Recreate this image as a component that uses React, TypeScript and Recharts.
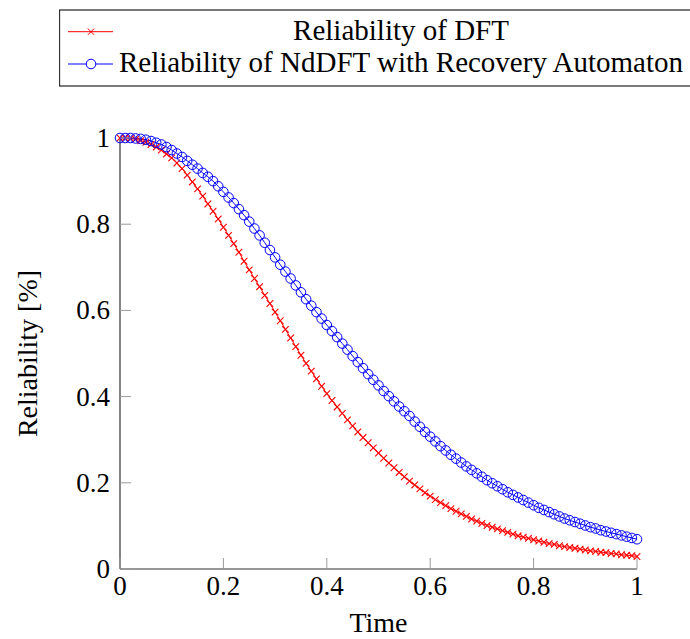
import { LineChart, Line, XAxis, YAxis, Label } from "recharts";

// time grid (x values of the plotted samples)
const timeSteps = [
  0, 0.01, 0.02, 0.03, 0.04, 0.05, 0.06, 0.07, 0.08, 0.09,
  0.1, 0.11, 0.12, 0.13, 0.14, 0.15, 0.16, 0.17, 0.18, 0.19,
  0.2, 0.21, 0.22, 0.23, 0.24, 0.25, 0.26, 0.27, 0.28, 0.29,
  0.3, 0.31, 0.32, 0.33, 0.34, 0.35, 0.36, 0.37, 0.38, 0.39,
  0.4, 0.41, 0.42, 0.43, 0.44, 0.45, 0.46, 0.47, 0.48, 0.49,
  0.5, 0.51, 0.52, 0.53, 0.54, 0.55, 0.56, 0.57, 0.58, 0.59,
  0.6, 0.61, 0.62, 0.63, 0.64, 0.65, 0.66, 0.67, 0.68, 0.69,
  0.7, 0.71, 0.72, 0.73, 0.74, 0.75, 0.76, 0.77, 0.78, 0.79,
  0.8, 0.81, 0.82, 0.83, 0.84, 0.85, 0.86, 0.87, 0.88, 0.89,
  0.9, 0.91, 0.92, 0.93, 0.94, 0.95, 0.96, 0.97, 0.98, 0.99,
  1,
];

const dftReliability = [
  1.0, 1.0, 0.999, 0.997, 0.994, 0.99, 0.985, 0.979, 0.972, 0.963,
  0.954, 0.942, 0.929, 0.914, 0.898, 0.882, 0.865, 0.847, 0.83, 0.812,
  0.793, 0.774, 0.755, 0.735, 0.714, 0.694, 0.674, 0.655, 0.635, 0.616,
  0.596, 0.576, 0.556, 0.536, 0.516, 0.496, 0.477, 0.459, 0.441, 0.424,
  0.407, 0.391, 0.376, 0.361, 0.346, 0.332, 0.318, 0.305, 0.293, 0.281,
  0.269, 0.257, 0.246, 0.235, 0.224, 0.214, 0.204, 0.195, 0.186, 0.177,
  0.169, 0.161, 0.154, 0.147, 0.14, 0.134, 0.128, 0.122, 0.116, 0.111,
  0.106, 0.101, 0.097, 0.093, 0.089, 0.085, 0.081, 0.077, 0.074, 0.071,
  0.068, 0.065, 0.062, 0.059, 0.057, 0.054, 0.052, 0.05, 0.048, 0.046,
  0.044, 0.042, 0.041, 0.039, 0.038, 0.036, 0.035, 0.033, 0.032, 0.031,
  0.029,
];

const ndDftReliability = [
  1.0, 1.0, 1.0, 0.999, 0.998, 0.996, 0.993, 0.989, 0.985, 0.979,
  0.972, 0.964, 0.956, 0.947, 0.938, 0.929, 0.919, 0.91, 0.9, 0.888,
  0.875, 0.862, 0.849, 0.835, 0.821, 0.806, 0.79, 0.774, 0.757, 0.74,
  0.723, 0.706, 0.69, 0.674, 0.658, 0.642, 0.626, 0.611, 0.596, 0.581,
  0.566, 0.552, 0.538, 0.523, 0.509, 0.494, 0.48, 0.466, 0.452, 0.439,
  0.426, 0.413, 0.401, 0.389, 0.377, 0.366, 0.355, 0.342, 0.33, 0.318,
  0.307, 0.296, 0.285, 0.275, 0.265, 0.256, 0.247, 0.238, 0.23, 0.222,
  0.214, 0.206, 0.199, 0.192, 0.185, 0.178, 0.172, 0.166, 0.16, 0.154,
  0.148, 0.142, 0.137, 0.132, 0.127, 0.122, 0.117, 0.113, 0.109, 0.105,
  0.101, 0.097, 0.094, 0.09, 0.087, 0.084, 0.081, 0.078, 0.075, 0.072,
  0.069,
];

const xTicks = [0, 0.2, 0.4, 0.6, 0.8, 1];
const yTicks = [0, 0.2, 0.4, 0.6, 0.8, 1];
const seriesNames = [
  "Reliability of DFT",
  "Reliability of NdDFT with Recovery Automaton",
];

const data = timeSteps.map((t, i) => ({
  t,
  dft: dftReliability[i],
  nddft: ndDftReliability[i],
}));

const FONT = '"Liberation Serif", serif';
const FRAME = "#333333";
const TICK_COLOR = "#9a9a9a";
const TICK_LEN = 11;
const RED = "#ff0000";
const BLUE = "#0000ff";

// pgfplots style ticks: drawn inwards, on every side of the box
const BottomTick = (props: any) => {
  const { x, y, payload } = props;
  return (
    <g>
      <line x1={x} y1={y} x2={x} y2={y - TICK_LEN} stroke={TICK_COLOR} />
      <text x={x} y={y + 26} textAnchor="middle" fill="#000" style={{ fontFamily: FONT, fontSize: 27 }}>
        {String(payload.value)}
      </text>
    </g>
  );
};

const TopTick = (props: any) => {
  const { x, y } = props;
  return <line x1={x} y1={y} x2={x} y2={y + TICK_LEN} stroke={TICK_COLOR} />;
};

const LeftTick = (props: any) => {
  const { x, y, payload } = props;
  return (
    <g>
      <line x1={x} y1={y} x2={x + TICK_LEN} y2={y} stroke={TICK_COLOR} />
      <text x={x - 10} y={y + 9} textAnchor="end" fill="#000" style={{ fontFamily: FONT, fontSize: 27 }}>
        {String(payload.value)}
      </text>
    </g>
  );
};

const RightTick = (props: any) => {
  const { x, y } = props;
  return <line x1={x} y1={y} x2={x - TICK_LEN} y2={y} stroke={TICK_COLOR} />;
};

const crossMark = (props: any) => {
  const { cx, cy, key } = props;
  const s = 3.3;
  return (
    <g key={key}>
      <line x1={cx - s} y1={cy - s} x2={cx + s} y2={cy + s} stroke={RED} strokeWidth={1.1} />
      <line x1={cx - s} y1={cy + s} x2={cx + s} y2={cy - s} stroke={RED} strokeWidth={1.1} />
    </g>
  );
};

const circleMark = (props: any) => {
  const { cx, cy, key } = props;
  return <circle key={key} cx={cx} cy={cy} r={4.8} fill="none" stroke={BLUE} strokeWidth={1} />;
};

// axis titles drawn as label content so the font is set on the text itself
const TimeTitle = (props: any) => {
  const { viewBox } = props;
  const cx = viewBox.x + viewBox.width / 2;
  return (
    <text x={cx} y={viewBox.y + 63} textAnchor="middle" fill="#000" style={{ fontFamily: FONT, fontSize: 28 }}>
      Time
    </text>
  );
};

const ReliabilityTitle = (props: any) => {
  const { viewBox } = props;
  const cy = viewBox.y + viewBox.height / 2;
  const x = 37;
  return (
    <text
      x={x}
      y={cy}
      textAnchor="middle"
      fill="#000"
      transform={`rotate(-90, ${x}, ${cy})`}
      style={{ fontFamily: FONT, fontSize: 28 }}
    >
      Reliability [%]
    </text>
  );
};

function LegendBox() {
  return (
    <svg width={631} height={80} style={{ position: "absolute", left: 59, top: 9 }}>
      <rect x={0.5} y={1} width={640} height={76} fill="#fff" stroke={FRAME} strokeWidth={1.3} />
      <line x1={9} y1={22.7} x2={54} y2={22.7} stroke={RED} />
      <line x1={28.8} y1={19.5} x2={35.2} y2={25.9} stroke={RED} />
      <line x1={28.8} y1={25.9} x2={35.2} y2={19.5} stroke={RED} />
      <text x={342} y={30.5} textAnchor="middle" fill="#000" style={{ fontFamily: FONT, fontSize: 29 }}>
        {seriesNames[0]}
      </text>
      <line x1={9} y1={55} x2={54} y2={55} stroke={BLUE} />
      <circle cx={32} cy={55} r={4.8} fill="#fff" stroke={BLUE} />
      <text x={342} y={62.8} textAnchor="middle" fill="#000" style={{ fontFamily: FONT, fontSize: 29 }}>
        {seriesNames[1]}
      </text>
    </svg>
  );
}

export default function App() {
  return (
    <div style={{ position: "absolute", left: 0, top: 0, width: 690, height: 639, background: "#fff" }}>
      <LineChart
        width={690}
        height={639}
        data={data}
        margin={{ top: 138, right: 53, bottom: 0, left: 0 }}
      >
        <XAxis
          dataKey="t"
          type="number"
          domain={[0, 1]}
          ticks={xTicks}
          interval={0}
          height={70}
          tickSize={0}
          tickMargin={0}
          tickLine={false}
          tick={BottomTick}
          axisLine={{ stroke: FRAME, strokeWidth: 1.2 }}
        >
          <Label content={TimeTitle} />
        </XAxis>
        <XAxis
          xAxisId="top"
          orientation="top"
          type="number"
          domain={[0, 1]}
          ticks={xTicks}
          interval={0}
          height={0}
          tickSize={0}
          tickMargin={0}
          tickLine={false}
          tick={TopTick}
          axisLine={{ stroke: FRAME, strokeWidth: 1.2 }}
        />
        <YAxis
          type="number"
          domain={[0, 1]}
          ticks={yTicks}
          interval={0}
          width={120}
          tickSize={0}
          tickMargin={0}
          tickLine={false}
          tick={LeftTick}
          axisLine={{ stroke: FRAME, strokeWidth: 1.2 }}
        >
          <Label content={ReliabilityTitle} />
        </YAxis>
        <YAxis
          yAxisId="right"
          orientation="right"
          type="number"
          domain={[0, 1]}
          ticks={yTicks}
          interval={0}
          width={0}
          tickSize={0}
          tickMargin={0}
          tickLine={false}
          tick={RightTick}
          axisLine={{ stroke: FRAME, strokeWidth: 1.2 }}
        />
        <Line
          dataKey="dft"
          name={seriesNames[0]}
          type="linear"
          stroke={RED}
          strokeWidth={1}
          dot={crossMark}
          activeDot={false}
          isAnimationActive={false}
        />
        <Line
          dataKey="nddft"
          name={seriesNames[1]}
          type="linear"
          stroke={BLUE}
          strokeWidth={1}
          dot={circleMark}
          activeDot={false}
          isAnimationActive={false}
        />
      </LineChart>
      <LegendBox />
    </div>
  );
}
